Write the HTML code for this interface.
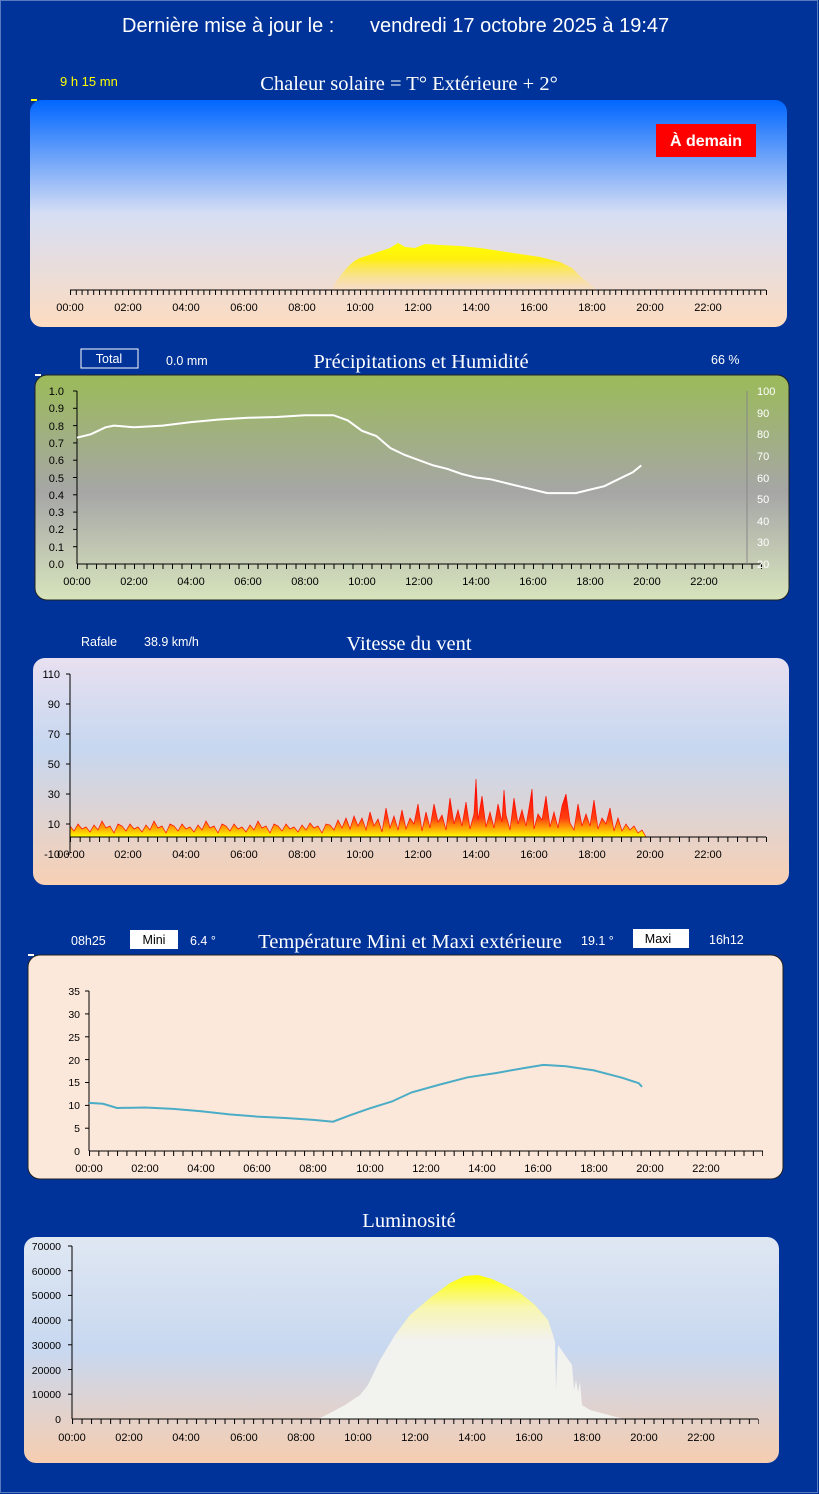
<!DOCTYPE html>
<html><head><meta charset="utf-8"><style>
html,body{margin:0;padding:0;background:#003399;}
svg{display:block}
text{font-family:"Liberation Sans",sans-serif;}
.s{font-family:"Liberation Serif",serif;fill:#fff;font-size:20.5px}
.w{fill:#fff;font-size:12.5px}
.k{fill:#000;font-size:11px}
.k2{fill:#000;font-size:10.5px}
</style></head><body>
<svg width="819" height="1494" xmlns="http://www.w3.org/2000/svg">
<defs>
<linearGradient id="g1" x1="0" y1="0" x2="0" y2="1"><stop offset="0" stop-color="#0066ff"/><stop offset="0.5" stop-color="#d6def4"/><stop offset="1" stop-color="#fddcc0"/></linearGradient>
<linearGradient id="sun" x1="0" y1="0" x2="0" y2="1"><stop offset="0" stop-color="#ffff00"/><stop offset="0.35" stop-color="#ffee10"/><stop offset="1" stop-color="#fddcc0" stop-opacity="0.5"/></linearGradient>
<linearGradient id="g2" x1="0" y1="0" x2="0" y2="1"><stop offset="0" stop-color="#9bbb59"/><stop offset="0.52" stop-color="#a6a6a6"/><stop offset="1" stop-color="#d7e4bd"/></linearGradient>
<linearGradient id="g3" x1="0" y1="0" x2="0" y2="1"><stop offset="0" stop-color="#e8e0f0"/><stop offset="0.4" stop-color="#c6d7f0"/><stop offset="1" stop-color="#f8d0b4"/></linearGradient>
<linearGradient id="wf" gradientUnits="userSpaceOnUse" x1="0" y1="790" x2="0" y2="837"><stop offset="0" stop-color="#ff0000"/><stop offset="0.6" stop-color="#ff4010"/><stop offset="1" stop-color="#ffff00"/></linearGradient>
<linearGradient id="g5" x1="0" y1="0" x2="0" y2="1"><stop offset="0" stop-color="#dfe7f2"/><stop offset="0.5" stop-color="#c8d8f0"/><stop offset="1" stop-color="#f6cdb0"/></linearGradient>
<linearGradient id="lf" gradientUnits="userSpaceOnUse" x1="0" y1="1275" x2="0" y2="1340"><stop offset="0" stop-color="#ffff00"/><stop offset="0.5" stop-color="#f8f6b0"/><stop offset="1" stop-color="#f2f2ee"/></linearGradient>
<pattern id="t1" patternUnits="userSpaceOnUse" x="70" y="290" width="5.8" height="6"><rect x="0" y="0" width="1" height="6" fill="#000"/></pattern>
<pattern id="t2" patternUnits="userSpaceOnUse" x="77" y="564" width="9.5" height="6"><rect x="0" y="0" width="1" height="6" fill="#000"/></pattern>
<pattern id="t3" patternUnits="userSpaceOnUse" x="70" y="837" width="9.667" height="6"><rect x="0" y="0" width="1" height="6" fill="#000"/></pattern>
<pattern id="t4" patternUnits="userSpaceOnUse" x="89" y="1151" width="9.35" height="6"><rect x="0" y="0" width="1" height="6" fill="#000"/></pattern>
<pattern id="t5" patternUnits="userSpaceOnUse" x="72" y="1419" width="9.533" height="6"><rect x="0" y="0" width="1" height="6" fill="#000"/></pattern>
</defs>
<rect x="0.5" y="0.5" width="817" height="1492" fill="none" stroke="#5a7ac0"/>
<text x="122" y="32" style="fill:#fff;font-size:20px">Dernière mise à jour le :</text>
<text x="370" y="32" style="fill:#fff;font-size:20px">vendredi 17 octobre 2025 à 19:47</text>

<!-- Panel 1 -->
<text x="60" y="86" style="fill:#ffff00;font-size:13px">9 h 15 mn</text>
<text x="409" y="90" text-anchor="middle" class="s">Chaleur solaire = T° Extérieure + 2°</text>
<rect x="30" y="100" width="757" height="227" rx="12" fill="url(#g1)"/>
<rect x="31" y="99" width="6" height="2" fill="#ffff00"/>
<rect x="656" y="124" width="100" height="33" fill="#ff0000"/>
<text x="706" y="146" text-anchor="middle" style="fill:#fff;font-size:16px;font-weight:bold">À demain</text>
<path d="M331,290 C340,275 350,262 360,258 L375,253 L390,248 L398,243 L405,247 L415,248 L425,244 L440,245 L460,246 L480,248 L500,251 L520,254 L540,257 L560,262 L572,268 L580,276 L590,284 L597,290 Z" fill="url(#sun)"/>
<line x1="70" y1="290" x2="766" y2="290" stroke="#000"/>
<rect x="70" y="290" width="697" height="5" fill="url(#t1)"/>
<g class="k" text-anchor="middle">
<text x="70" y="311" class="k">00:00</text><text x="128" y="311" class="k">02:00</text><text x="186" y="311" class="k">04:00</text><text x="244" y="311" class="k">06:00</text><text x="302" y="311" class="k">08:00</text><text x="360" y="311" class="k">10:00</text><text x="418" y="311" class="k">12:00</text><text x="476" y="311" class="k">14:00</text><text x="534" y="311" class="k">16:00</text><text x="592" y="311" class="k">18:00</text><text x="650" y="311" class="k">20:00</text><text x="708" y="311" class="k">22:00</text>
</g>

<!-- Panel 2 -->
<rect x="81" y="349" width="57" height="19" fill="none" stroke="#fff"/>
<text x="109" y="363" text-anchor="middle" class="w">Total</text>
<text x="166" y="365" class="w">0.0 mm</text>
<text x="421" y="368" text-anchor="middle" class="s">Précipitations et Humidité</text>
<text x="711" y="364" class="w">66 %</text>
<rect x="35" y="375" width="754" height="225" rx="12" fill="url(#g2)" stroke="#222"/>
<rect x="35" y="374" width="6" height="2" fill="#fff"/>
<line x1="77" y1="391" x2="77" y2="564" stroke="#000"/>
<line x1="77" y1="564" x2="761" y2="564" stroke="#000"/>
<rect x="77" y="564" width="685" height="5" fill="url(#t2)"/>
<line x1="747" y1="391" x2="747" y2="564" stroke="#888"/>
<g stroke="#000"><line x1="73" y1="391" x2="77" y2="391"/><line x1="73" y1="408.3" x2="77" y2="408.3"/><line x1="73" y1="425.6" x2="77" y2="425.6"/><line x1="73" y1="442.9" x2="77" y2="442.9"/><line x1="73" y1="460.2" x2="77" y2="460.2"/><line x1="73" y1="477.5" x2="77" y2="477.5"/><line x1="73" y1="494.8" x2="77" y2="494.8"/><line x1="73" y1="512.1" x2="77" y2="512.1"/><line x1="73" y1="529.4" x2="77" y2="529.4"/><line x1="73" y1="546.7" x2="77" y2="546.7"/></g>
<g text-anchor="end">
<text x="64" y="395" class="k">1.0</text><text x="64" y="412" class="k">0.9</text><text x="64" y="430" class="k">0.8</text><text x="64" y="447" class="k">0.7</text><text x="64" y="464" class="k">0.6</text><text x="64" y="482" class="k">0.5</text><text x="64" y="499" class="k">0.4</text><text x="64" y="516" class="k">0.3</text><text x="64" y="533" class="k">0.2</text><text x="64" y="551" class="k">0.1</text><text x="64" y="568" class="k">0.0</text>
</g>
<g style="fill:#fff;font-size:11px">
<text x="757" y="395">100</text><text x="757" y="417">90</text><text x="757" y="438">80</text><text x="757" y="460">70</text><text x="757" y="482">60</text><text x="757" y="503">50</text><text x="757" y="525">40</text><text x="757" y="546">30</text><text x="757" y="568">20</text>
</g>
<g text-anchor="middle">
<text x="77" y="585" class="k">00:00</text><text x="134" y="585" class="k">02:00</text><text x="191" y="585" class="k">04:00</text><text x="248" y="585" class="k">06:00</text><text x="305" y="585" class="k">08:00</text><text x="362" y="585" class="k">10:00</text><text x="419" y="585" class="k">12:00</text><text x="476" y="585" class="k">14:00</text><text x="533" y="585" class="k">16:00</text><text x="590" y="585" class="k">18:00</text><text x="647" y="585" class="k">20:00</text><text x="704" y="585" class="k">22:00</text>
</g>
<polyline fill="none" stroke="#fff" stroke-width="2" points="77,437.7 91,434.2 105.5,427.3 114,425.6 134,427.3 148,426.5 162.5,425.6 191,422.1 219.5,419.5 248,417.8 276.5,417 305,415.2 333.5,415.2 347.8,420.4 362,430.8 376.3,436 390.5,448.1 404.8,455 419,460.2 433.3,465.4 447.5,468.9 461.8,474 476,477.5 490.3,479.2 504.5,482.7 518.8,486.2 533,489.6 547.3,493.1 561.5,493.1 575.8,493.1 590,489.6 604.3,486.2 618.5,479.2 632.8,472.3 641.3,465.4"/>

<!-- Panel 3 -->
<text x="81" y="646" class="w">Rafale</text>
<text x="144" y="646" class="w">38.9 km/h</text>
<text x="409" y="650" text-anchor="middle" class="s">Vitesse du vent</text>
<rect x="33" y="658" width="756" height="227" rx="12" fill="url(#g3)"/>
<polygon fill="url(#wf)" stroke="#ff1000" stroke-width="0.7" points="70,837 70,826 74,831 78,824 82,829 86,827 90,832 94,825 98,830 102,821 106,828 110,826 114,833 118,824 122,826 126,831 130,824 134,829 138,827 142,832 146,825 150,830 154,821 158,828 162,826 166,833 170,824 174,826 178,831 182,824 186,829 190,827 194,832 198,825 202,830 206,821 210,828 214,826 218,833 222,824 226,826 230,831 234,824 238,829 242,827 246,832 250,825 254,830 258,821 262,828 266,826 270,833 274,824 278,826 282,831 286,824 290,829 294,827 298,832 302,825 306,830 310,823 314,828 318,826 322,833 326,824 330,825 334,830 338,820 342,828 346,818 350,829 354,816 358,826 362,818 366,830 370,812 374,826 378,819 382,832 386,808 390,828 394,816 398,830 402,810 406,829 410,818 414,824 418,804 422,831 426,812 430,828 434,804 438,822 442,815 446,830 450,798 454,824 458,810 462,826 466,802 470,829 474,814 476,779 478,820 482,796 486,827 490,812 494,828 498,804 502,822 504,790 506,815 510,830 514,798 518,824 522,810 526,826 530,802 532,789 534,829 538,814 542,820 546,796 550,827 554,812 558,828 562,806 566,794 570,823 574,830 578,804 582,826 586,814 590,826 594,800 598,829 602,818 606,824 610,808 614,831 618,818 622,831 626,824 630,830 634,826 638,833 642,830 646,837"/>
<line x1="70" y1="674" x2="70" y2="853" stroke="#000"/>
<line x1="70" y1="837" x2="766" y2="837" stroke="#000"/>
<rect x="70" y="837" width="697" height="5" fill="url(#t3)"/>
<g stroke="#000"><line x1="66" y1="674" x2="70" y2="674"/><line x1="66" y1="704" x2="70" y2="704"/><line x1="66" y1="734" x2="70" y2="734"/><line x1="66" y1="764" x2="70" y2="764"/><line x1="66" y1="794" x2="70" y2="794"/><line x1="66" y1="824" x2="70" y2="824"/><line x1="66" y1="854" x2="70" y2="854"/></g>
<g text-anchor="end">
<text x="60" y="678" class="k">110</text><text x="60" y="708" class="k">90</text><text x="60" y="738" class="k">70</text><text x="60" y="768" class="k">50</text><text x="60" y="798" class="k">30</text><text x="60" y="828" class="k">10</text><text x="60" y="858" class="k">-10</text>
</g>
<g text-anchor="middle">
<text x="71" y="858" class="k">00:00</text><text x="128" y="858" class="k">02:00</text><text x="186" y="858" class="k">04:00</text><text x="244" y="858" class="k">06:00</text><text x="302" y="858" class="k">08:00</text><text x="360" y="858" class="k">10:00</text><text x="418" y="858" class="k">12:00</text><text x="476" y="858" class="k">14:00</text><text x="534" y="858" class="k">16:00</text><text x="592" y="858" class="k">18:00</text><text x="650" y="858" class="k">20:00</text><text x="708" y="858" class="k">22:00</text>
</g>

<!-- Panel 4 -->
<text x="71" y="945" class="w">08h25</text>
<rect x="130" y="930" width="48" height="19" fill="#fff"/>
<text x="154" y="944" text-anchor="middle" style="fill:#000;font-size:12.5px">Mini</text>
<text x="190" y="945" class="w">6.4 °</text>
<text x="410" y="948" text-anchor="middle" class="s">Température Mini et Maxi extérieure</text>
<text x="581" y="945" class="w">19.1 °</text>
<rect x="633" y="929" width="56" height="19" fill="#fff"/>
<text x="658" y="943" text-anchor="middle" style="fill:#000;font-size:12.5px">Maxi</text>
<text x="709" y="944" class="w">16h12</text>
<rect x="28" y="955" width="755" height="224" rx="12" fill="#fce8da" stroke="#222"/>
<rect x="28" y="954" width="6" height="2" fill="#fff"/>
<line x1="89" y1="991" x2="89" y2="1151" stroke="#000"/>
<line x1="89" y1="1151" x2="763" y2="1151" stroke="#000"/>
<rect x="89" y="1151" width="674" height="5" fill="url(#t4)"/>
<g stroke="#000"><line x1="85" y1="991" x2="89" y2="991"/><line x1="85" y1="1013.9" x2="89" y2="1013.9"/><line x1="85" y1="1036.8" x2="89" y2="1036.8"/><line x1="85" y1="1059.6" x2="89" y2="1059.6"/><line x1="85" y1="1082.5" x2="89" y2="1082.5"/><line x1="85" y1="1105.4" x2="89" y2="1105.4"/><line x1="85" y1="1128.2" x2="89" y2="1128.2"/></g>
<g text-anchor="end">
<text x="80" y="995" class="k2">35</text><text x="80" y="1018" class="k2">30</text><text x="80" y="1041" class="k2">25</text><text x="80" y="1064" class="k2">20</text><text x="80" y="1086" class="k2">15</text><text x="80" y="1109" class="k2">10</text><text x="80" y="1132" class="k2">5</text><text x="80" y="1155" class="k2">0</text>
</g>
<g text-anchor="middle">
<text x="89" y="1172" class="k">00:00</text><text x="145" y="1172" class="k">02:00</text><text x="201" y="1172" class="k">04:00</text><text x="257" y="1172" class="k">06:00</text><text x="313" y="1172" class="k">08:00</text><text x="370" y="1172" class="k">10:00</text><text x="426" y="1172" class="k">12:00</text><text x="482" y="1172" class="k">14:00</text><text x="538" y="1172" class="k">16:00</text><text x="594" y="1172" class="k">18:00</text><text x="650" y="1172" class="k">20:00</text><text x="706" y="1172" class="k">22:00</text>
</g>
<polyline fill="none" stroke="#4bacc6" stroke-width="2" points="89,1102.9 103,1103.8 117.1,1108 145.1,1107.5 173.2,1108.9 201.2,1111.2 229.3,1114.4 257.3,1116.6 285.4,1118 313.4,1119.9 333,1121.7 349.9,1115.3 369.5,1108.4 392,1101.5 411.6,1092.4 439.6,1084.6 467.7,1077.3 495.7,1073.1 523.8,1068.1 543.4,1064.9 565.9,1066.3 593.9,1070.4 621.9,1077.7 638.8,1083.2 642,1086.9"/>

<!-- Panel 5 -->
<text x="409" y="1227" text-anchor="middle" class="s">Luminosité</text>
<rect x="24" y="1237" width="755" height="226" rx="12" fill="url(#g5)"/>
<path d="M318,1419 L330,1413 L345,1405 L360,1395 L368,1385 L380,1360 L395,1335 L410,1315 L430,1298 L450,1283 L465,1276 L478,1275 L492,1279 L505,1285 L520,1293 L535,1305 L548,1320 L553,1335 L555,1342 L556,1390 L558,1345 L565,1355 L572,1365 L574,1390 L576,1380 L578,1392 L580,1382 L582,1405 L590,1410 L605,1414 L620,1418 L625,1419 Z" fill="url(#lf)"/>
<line x1="72" y1="1246" x2="72" y2="1419" stroke="#000"/>
<line x1="72" y1="1419" x2="758" y2="1419" stroke="#000"/>
<rect x="72" y="1419" width="687" height="5" fill="url(#t5)"/>
<g stroke="#000"><line x1="68" y1="1246" x2="72" y2="1246"/><line x1="68" y1="1270.7" x2="72" y2="1270.7"/><line x1="68" y1="1295.4" x2="72" y2="1295.4"/><line x1="68" y1="1320.1" x2="72" y2="1320.1"/><line x1="68" y1="1344.8" x2="72" y2="1344.8"/><line x1="68" y1="1369.5" x2="72" y2="1369.5"/><line x1="68" y1="1394.2" x2="72" y2="1394.2"/></g>
<g text-anchor="end">
<text x="61" y="1250" class="k2">70000</text><text x="61" y="1275" class="k2">60000</text><text x="61" y="1299" class="k2">50000</text><text x="61" y="1324" class="k2">40000</text><text x="61" y="1349" class="k2">30000</text><text x="61" y="1374" class="k2">20000</text><text x="61" y="1398" class="k2">10000</text><text x="61" y="1423" class="k2">0</text>
</g>
<g text-anchor="middle">
<text x="72" y="1441" class="k">00:00</text><text x="129" y="1441" class="k">02:00</text><text x="186" y="1441" class="k">04:00</text><text x="244" y="1441" class="k">06:00</text><text x="301" y="1441" class="k">08:00</text><text x="358" y="1441" class="k">10:00</text><text x="415" y="1441" class="k">12:00</text><text x="472" y="1441" class="k">14:00</text><text x="529" y="1441" class="k">16:00</text><text x="587" y="1441" class="k">18:00</text><text x="644" y="1441" class="k">20:00</text><text x="701" y="1441" class="k">22:00</text>
</g>
</svg>
</body></html>
